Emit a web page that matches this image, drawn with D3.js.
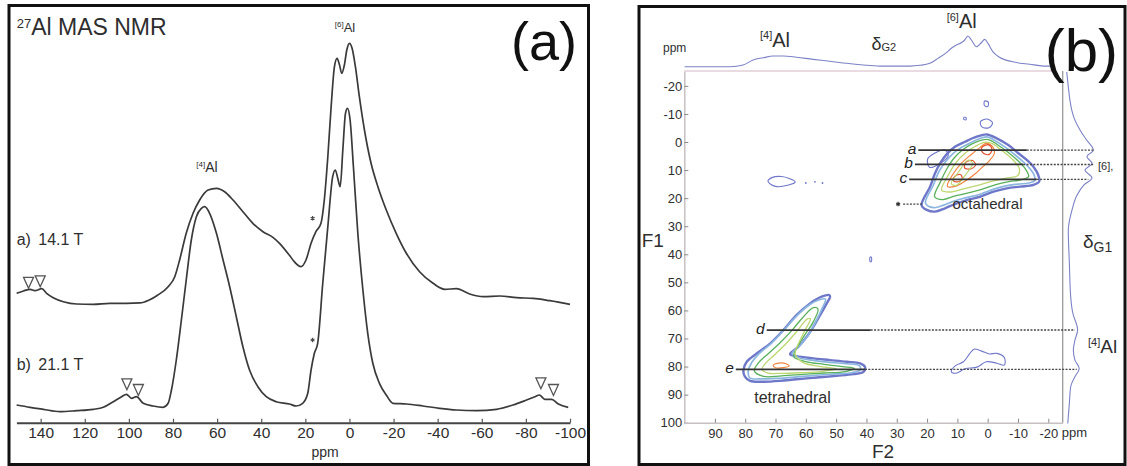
<!DOCTYPE html>
<html><head><meta charset="utf-8">
<script src="https://cdn.jsdelivr.net/npm/d3@7"></script>
<style>body{margin:0;background:#fff}svg{display:block}text{font-family:"Liberation Sans",Arial,sans-serif}</style>
</head><body><svg id="c" width="1127" height="466"></svg>
<script>
// ---------- Panel (a): 1D 27Al MAS NMR spectra [ppm, intensity] ----------
const spec14T = [[150.9,129.4],[147.8,131.7],[144.8,133.4],[142.6,132],[139.5,134],[137.3,129.4],[134.3,125],[129.7,121],[123.7,118.7],[116.2,118.4],[108.6,119.4],[101.1,119.4],[95,119.8],[91,122.5],[87,127.5],[82.2,136],[79.2,146],[77,162.7],[74,189.4],[70.9,209.4],[67.9,222.7],[64.1,232.7],[60.3,234.4],[56.6,231],[52.8,222.7],[48.3,211],[43.8,199.4],[39.2,191],[34.7,185.4],[31.7,179.4],[27.3,167.7],[25,161],[22,156],[19.7,162.7],[17.4,179.4],[15.2,191],[12.9,199.4],[11.4,222.7],[9.8,266],[8.3,316],[6.8,356],[5.6,364.4],[4.5,357.7],[3.5,349.4],[2.3,357.7],[1.2,372.7],[0,379.4],[-1.2,374.4],[-2.7,356],[-4.5,326],[-6.8,292.7],[-9.8,259.4],[-12.9,236],[-16.7,212.7],[-21.2,189.4],[-25.8,169.4],[-31.8,151],[-37.9,139.4],[-43.2,133.4],[-48.5,134],[-54.5,128.7],[-60.6,126],[-68.2,126.7],[-75.8,125],[-83.3,124.4],[-90.9,122],[-100,118.4]];
const spec21T = [[150.9,17.7],[144.8,15.4],[138.8,13.4],[131.3,11],[123.7,12],[116.2,13.4],[111.6,15.4],[107.1,21],[103.3,26],[101.1,28.4],[98.8,24.4],[96.6,26],[93.5,19.4],[89,16.7],[84.5,15.4],[82.2,19.4],[80.7,32.7],[78.5,62.7],[76.2,102.7],[74,142.7],[71.7,182.7],[69.4,206],[67.1,214.4],[65.6,216],[63.4,209.4],[60.3,189.4],[57.3,162.7],[54.3,136],[51.3,106],[48.3,76],[45.3,52.7],[41.5,36],[37.7,26],[33.2,21],[27.2,18.7],[24.2,16.7],[21.2,19.4],[18.9,29.4],[17.4,52.7],[15.9,69.4],[14.4,79.4],[12.1,139.4],[9.8,196],[7.6,246],[6.4,252.7],[5.3,244.4],[4.2,236],[3,272.7],[1.8,309.4],[0.9,314.4],[-0.3,302.7],[-1.8,256],[-3.8,189.4],[-6.1,132.7],[-8.3,89.4],[-10.6,59.4],[-13.6,39.4],[-16.7,27.7],[-19.7,19.4],[-25.8,18.7],[-33.3,16.7],[-40.9,14.4],[-48.5,12.7],[-57.6,12],[-66.7,13.4],[-74.2,17.7],[-80.3,22.7],[-84.1,26],[-86.1,27.7],[-88.6,23.4],[-91.7,23.4],[-94.7,18.7],[-99.2,15.4]];
const ticksA = [140,120,100,80,60,40,20,0,-20,-40,-60,-80,-100];
const sidebandMarks = [[145.5,139.9],[140.2,141.4],[100.9,38.4],[95.7,32.7],[-86.8,39.4],[-92.5,32.7]];
const asteriskMarks = [[16.7,204.4],[16.7,82.7]];

// ---------- Panel (b): 2D MQMAS [F2 ppm, F1 ppm] ----------
const ticksF1 = [-20,-10,0,10,20,30,40,50,60,70,80,90,100];
const ticksF2 = [90,80,70,60,50,40,30,20,10,0,-10,-20];
const projF2 = [[100,0],[85,0],[80.7,5.5],[77.4,22],[74.1,29],[70.8,35],[67.5,35],[63.1,31],[57.6,24],[52.1,18],[46.6,11],[41.1,5.5],[35.6,2],[25.7,2],[22.4,4.5],[19.1,11],[16.4,27],[13.6,46],[12,60],[10.3,71],[8.7,78],[7.6,87],[6.5,100],[5.4,87],[3.7,65],[2.1,78],[1,89],[-0.1,76],[-1.7,49],[-3.9,31],[-8.3,16],[-13.8,8],[-19.3,2],[-21.5,2]];
const projF1 = [[-25,0],[-19.7,6],[-15,12],[-11.4,19],[-7.8,31],[-4.3,50],[-0.7,75],[2.9,100],[5.2,76],[7.6,95],[10,69],[12.8,95],[15.3,65],[18.9,39],[24.2,20],[31.4,6],[43.1,10],[55.1,15],[61,23],[67,41],[70.6,31],[74.1,25],[77.7,31],[80.7,47],[83.6,31],[87.2,15],[93.1,10],[100.3,4]];
const contourColors = ["#6f77c9","#8bb6e0","#58b05a","#bcd76f","#f0853f","#e2502e"];
const octahedral = [
 [[21.8,22.5],[19.0,15.9],[17.4,11.2],[15.7,7.6],[13.5,4.3],[10.8,1.7],[7.5,-0.1],[3.6,-1.9],[0.3,-2.7],[-3.0,-1.3],[-6.8,1.1],[-10.1,4.0],[-12.9,6.4],[-15.1,8.8],[-16.7,11.8],[-17.0,14.1],[-15.1,15.3],[-10.7,15.9],[-6.3,16.5],[-1.9,17.7],[2.5,19.5],[6.9,20.7],[10.8,22.1],[14.1,23.6],[17.4,24.8],[20.1,24.2]],
 [[20.5,21.8],[18,15.5],[16.3,11],[14.5,7.8],[12.3,5],[9.8,2.7],[6.8,0.9],[3.4,-0.9],[0.3,-1.8],[-2.6,-0.4],[-6,2],[-9.4,4.9],[-12,7.3],[-14,9.6],[-15.4,12],[-15.5,13.8],[-13.5,14.6],[-10,15],[-6,15.6],[-2,16.8],[2.5,18.6],[7,19.8],[11,21],[14.5,22.5],[17.8,23.4]],
 [[17.5,19.5],[15.6,14.2],[13.5,9.6],[11,5.6],[8,2.6],[5,0.6],[2,-0.7],[-0.5,-0.8],[-3,0.8],[-6.5,3.5],[-9.8,6.5],[-12.3,9.4],[-13.5,12.3],[-11,13.5],[-7,14.1],[-3,15.1],[2,16.9],[7,18.3],[11,19.3],[14.8,20.5]],
 [[15.2,17.2],[13.2,12.2],[10.7,7.7],[7.6,4.1],[4.2,1.6],[1,0.1],[-1.6,0.6],[-4.6,3],[-8,6],[-10.4,9.4],[-10,11.9],[-6,12.9],[-1.6,13.9],[3,15.4],[8,16.7],[12.2,17.8]],
 [[13.3,15.8],[11.3,11.2],[8.7,7.6],[5.6,4.6],[2.6,2],[0.5,0.5],[-1.5,1.5],[-2.2,4],[-0.6,6.6],[1.8,9],[4,11.2],[7,13.6],[10.2,15.6]],
 [[1.6,1.6],[-0.4,1],[-1.4,2.6],[-0.5,4.4],[1.4,4],[2.1,2.6]]
];
const octaExtra = [
 [5,[[7.2,7.2],[5,6.6],[4,8.2],[5.6,9.6],[7.6,9.2]]],
 [5,[[10.8,12.2],[9,11.6],[8.4,13.2],[10.2,14.2],[11.4,13.6]]],
 [0,[[19.8,6],[17.2,3.8],[14.2,2.8],[13,4.8],[16,7.8],[19.2,9]]],
 [3,[[12,14.8],[9.5,10.5],[6.5,6.5],[5,7.5],[7.5,12],[10.5,15.5]]]
];
const tetrahedral = [
 [[52.3,54.5],[54.8,55.1],[58.6,57.5],[63.1,61.7],[67.4,67.0],[71.8,71.8],[76.2,75.3],[79.5,78.3],[80.6,81.3],[80.1,83.6],[78.4,85.1],[74.1,85.4],[68.5,85.1],[63.1,84.5],[56.4,83.9],[49.8,83.3],[44.3,82.7],[41.0,81.9],[40.5,80.1],[42.1,78.9],[46.5,78.3],[52.0,77.7],[57.6,77.1],[63.1,76.3],[65.2,75.6],[62.5,73.0],[59.7,69.4],[57.5,65.8],[55.3,61.7],[53.1,57.5],[52.0,55.1]],
 [[79,81.5],[78,78.8],[75.5,75.5],[71.5,71.8],[67.5,67.3],[63.5,62.5],[59.5,58.5],[55.5,56.2],[53.5,56],[54.5,59],[56.5,63.5],[59,68.5],[62,72.5],[64.5,75.3],[62.5,76.8],[57.5,77.8],[52,78.5],[46.5,79],[42.5,79.6],[42,81.2],[45,82.2],[50,82.6],[56.5,83.1],[63,83.7],[69,84.2],[74.5,84.4],[78.5,84]],
 [[77,81.5],[75.5,78.5],[72.5,75.5],[68.5,71.5],[64.5,67],[61,62.5],[57.5,59],[56,59.5],[57.5,64],[60.5,69],[63,73.5],[64,76.5],[60,78.2],[54,79.2],[48,80],[44,80.6],[47,81.8],[54,82.3],[61,82.8],[68,83.3],[74,83.5]],
 [[74.5,81],[73,78.5],[70,75.5],[66.5,71.8],[63,67.5],[59.5,63],[58.5,63],[60.5,67.5],[62.5,72],[63.5,75.5],[61,78.5],[55,80],[50,80.8],[55,81.8],[62,82.2],[68,82.4],[72.5,82.3]],
 [[70.8,79.6],[69,78.8],[66.5,79],[65.5,79.8],[67.5,80.4],[70,80.4]]
];
const smallBlobs = [
 [[72.5,14],[71,12.6],[68,12.3],[65.5,13],[63.5,14.2],[66,15.4],[70,15.8]],
 [[12,81.8],[10.5,79.6],[8,78.3],[6,75.5],[4.5,73.8],[2,74.5],[-0.5,75.5],[-3,75.3],[-5.5,76.8],[-5.5,79.5],[-3,78.8],[0.5,78.3],[3.5,80.2],[7.5,80.8],[10.5,82.4]],
 [[1,-14.6],[-0.2,-14.2],[0,-12.6],[1.1,-13.1]],
 [[2.4,-7.2],[0.2,-8.2],[-1.6,-6.8],[-0.4,-5.1],[1.8,-5.3]],
 [[7.8,-8.8],[7.1,-8.6],[7.2,-7.9],[7.9,-8.1]],
 [[38.8,41],[38.4,41],[38.4,42.6],[38.8,42.6]]
];
const blobDots = [[60,14.6],[57,14.2],[54.5,14.6]];
const refLines = [
 {label:"a", f1:2.9,  from:22.9, solidTo:-12.9, to:-34.9},
 {label:"b", f1:8.0,  from:24.0, solidTo:-11.7, to:-34.9},
 {label:"c", f1:13.3, from:25.9, solidTo:-16.2, to:-33.2},
 {label:"d", f1:67.0, from:72.9, solidTo:38.6,  to:-28.8},
 {label:"e", f1:81.0, from:83.1, solidTo:40.5,  to:-29.4}
];
const starLine = {f1:22.1, from:21.3, to:27.9};

const svg = d3.select("#c");
const ink = "#2e2e2e";
const FONT = '"Liberation Sans",Arial,sans-serif';

// ================= Panel (a) =================
const xA = d3.scaleLinear().domain([151,-100]).range([16.4,570]);
const yA = d3.scaleLinear().domain([0,400]).range([422.7,22.7]);
const lineA = d3.line().x(d=>xA(d[0])).y(d=>yA(d[1])).curve(d3.curveMonotoneX);
const gA = svg.append("g");
[spec14T, spec21T].forEach(s => gA.append("path").datum(s).attr("d", lineA)
  .attr("fill","none").attr("stroke","#3a3a3a").attr("stroke-width",1.7).attr("stroke-linejoin","round"));

const axA = gA.append("g").attr("transform",`translate(0,${yA(0)})`)
  .call(d3.axisBottom(xA).tickValues(ticksA).tickSize(-4).tickSizeOuter(0).tickPadding(4.5).tickFormat(d=>String(d)));
axA.select(".domain").attr("stroke","#444").attr("stroke-width",2);
axA.selectAll(".tick line").attr("stroke","#555").attr("stroke-width",1.2);
axA.selectAll("text").attr("font-size",15.5).attr("fill",ink).attr("font-family",FONT);

const tri = "M-5,-5.5L5,-5.5L0,5.5Z";
gA.selectAll(".sb").data(sidebandMarks).join("path").attr("d",tri)
  .attr("transform",d=>`translate(${xA(d[0])},${yA(d[1])})`)
  .attr("fill","#fff").attr("stroke","#555").attr("stroke-width",1.3);
gA.selectAll(".ast").data(asteriskMarks).join("path")
  .attr("d", d3.symbol(d3.symbolAsterisk, 14)())
  .attr("transform",d=>`translate(${xA(d[0])},${yA(d[1])})`)
  .attr("stroke","#444").attr("stroke-width",1.1).attr("fill","none");

const tA = gA.append("text").attr("x",16.7).attr("y",35).attr("fill",ink);
tA.append("tspan").attr("font-size",13).attr("dy",-7).text("27");
tA.append("tspan").attr("font-size",23).attr("dy",7).text("Al MAS NMR");
function supLabel(g, x, y, sup, main, fs, sfs, anchor){
  const t = g.append("text").attr("x",x).attr("y",y).attr("fill",ink).attr("text-anchor",anchor||"start");
  t.append("tspan").attr("font-size",sfs).attr("dy",-fs*0.38).text(sup);
  t.append("tspan").attr("font-size",fs).attr("dy",fs*0.38).text(main);
  return t;
}
supLabel(gA, 207, 172, "[4]", "Al", 14, 8, "middle");
supLabel(gA, 345, 31.7, "[6]", "Al", 13, 8, "middle");
[["a)","14.1 T",245],["b)","21.1 T",370]].forEach(r=>{
  gA.append("text").attr("x",16.7).attr("y",r[2]).attr("font-size",16).attr("fill",ink).text(r[0]);
  gA.append("text").attr("x",38.3).attr("y",r[2]).attr("font-size",16).attr("fill",ink).text(r[1]);
});
gA.append("text").attr("x",325).attr("y",457).attr("font-size",14).attr("text-anchor","middle").attr("fill",ink).text("ppm");
gA.append("text").attr("x",577).attr("y",59.5).attr("font-size",54).attr("text-anchor","end").attr("fill","#111").text("(a)");
gA.append("rect").attr("x",9).attr("y",5.5).attr("width",579.5).attr("height",459)
  .attr("fill","none").attr("stroke","#111").attr("stroke-width",3);

// ================= Panel (b) =================
const xB = d3.scaleLinear().domain([100.1,-24.75]).range([684.3,1062.7]);
const yB = d3.scaleLinear().domain([-25.3,100]).range([71,422.7]);
const yTop = d3.scaleLinear().domain([0,100]).range([66.7,36]);
const xRight = d3.scaleLinear().domain([0,100]).range([1066.7,1093.3]);
const gB = svg.append("g");

gB.append("line").attr("x1",xB.range()[0]).attr("x2",xB.range()[1]-10).attr("y1",yB.range()[0]).attr("y2",yB.range()[0])
  .attr("stroke","#e3cfd8").attr("stroke-width",1.5);
gB.append("line").attr("x1",xB.range()[1]).attr("x2",xB.range()[1]).attr("y1",yB.range()[0]).attr("y2",yB.range()[1])
  .attr("stroke","#9a9a9a").attr("stroke-width",1.3);

const axL = gB.append("g").attr("transform",`translate(${xB.range()[0]},0)`)
  .call(d3.axisLeft(yB).tickValues(ticksF1).tickSize(-4).tickSizeOuter(0).tickPadding(2).tickFormat(d=>String(d)));
const axBt = gB.append("g").attr("transform",`translate(0,${yB.range()[1]})`)
  .call(d3.axisBottom(xB).tickValues(ticksF2).tickSize(-4).tickSizeOuter(0).tickPadding(6.5).tickFormat(d=>String(d)));
[axL, axBt].forEach(a=>{
  a.select(".domain").attr("stroke","#c8c0c4").attr("stroke-width",1.5);
  a.selectAll(".tick line").attr("stroke","#888").attr("stroke-width",1);
  a.selectAll("text").attr("font-size",13).attr("fill",ink).attr("font-family",FONT);
});

gB.append("path").datum(projF2).attr("d", d3.line().x(d=>xB(d[0])).y(d=>yTop(d[1])).curve(d3.curveMonotoneX))
  .attr("fill","none").attr("stroke","#7c82c6").attr("stroke-width",1.1);
gB.append("path").datum(projF1).attr("d", d3.line().x(d=>xRight(d[1])).y(d=>yB(d[0])).curve(d3.curveMonotoneY))
  .attr("fill","none").attr("stroke","#7c82c6").attr("stroke-width",1.1);

const cLine = d3.line().x(d=>xB(d[0])).y(d=>yB(d[1])).curve(d3.curveCatmullRomClosed.alpha(0.5));
const cWidths = [2.4,1.7,1.3,1.3,1.2,1.2];
function drawContours(levels){
  levels.forEach((pts,i)=> gB.append("path").datum(pts).attr("d",cLine).attr("fill","none")
    .attr("stroke",contourColors[i]).attr("stroke-width", cWidths[i]));
}
drawContours(tetrahedral);
drawContours(octahedral);
octaExtra.forEach(e=> gB.append("path").datum(e[1]).attr("d",cLine).attr("fill","none")
  .attr("stroke",contourColors[e[0]]).attr("stroke-width",1.2));
smallBlobs.forEach(b=> gB.append("path").datum(b).attr("d",cLine).attr("fill","none")
  .attr("stroke",contourColors[0]).attr("stroke-width",1.1));
gB.selectAll(".bd").data(blobDots).join("circle").attr("cx",d=>xB(d[0])).attr("cy",d=>yB(d[1])).attr("r",0.9)
  .attr("fill",contourColors[0]);

refLines.forEach(r=>{
  gB.append("line").attr("x1",xB(r.from)).attr("x2",xB(r.solidTo)).attr("y1",yB(r.f1)).attr("y2",yB(r.f1))
    .attr("stroke","#333").attr("stroke-width",1.8);
  gB.append("line").attr("x1",xB(r.solidTo)).attr("x2",xB(r.to)).attr("y1",yB(r.f1)).attr("y2",yB(r.f1))
    .attr("stroke","#444").attr("stroke-width",1.4).attr("stroke-dasharray","2,1.4");
  gB.append("text").attr("x",xB(r.from)-2).attr("y",yB(r.f1)+4).attr("text-anchor","end")
    .attr("font-size",15.5).attr("font-style","italic").attr("fill","#222").text(r.label);
});
gB.append("line").attr("x1",xB(starLine.to)).attr("x2",xB(starLine.from)).attr("y1",yB(starLine.f1)).attr("y2",yB(starLine.f1))
  .attr("stroke","#444").attr("stroke-width",1.3).attr("stroke-dasharray","2,1.4");
gB.append("path").attr("d", d3.symbol(d3.symbolAsterisk, 14)())
  .attr("transform",`translate(${xB(starLine.to)-5},${yB(starLine.f1)})`)
  .attr("stroke","#333").attr("stroke-width",1.2).attr("fill","none");

gB.append("text").attr("x",663).attr("y",52).attr("font-size",12).attr("fill",ink).text("ppm");
supLabel(gB, 760, 46.5, "[4]", "Al", 20, 11, "start");
supLabel(gB, 946.7, 28.3, "[6]", "Al", 20, 11, "start");
supLabel(gB, 1088, 353.3, "[4]", "Al", 19, 11, "start");
const dG2 = gB.append("text").attr("x",871.5).attr("y",50).attr("fill",ink);
dG2.append("tspan").attr("font-size",18).text("δ");
dG2.append("tspan").attr("font-size",11).attr("dy",1).text("G2");
const dG1 = gB.append("text").attr("x",1083).attr("y",248).attr("fill",ink);
dG1.append("tspan").attr("font-size",19).text("δ");
dG1.append("tspan").attr("font-size",14).attr("dy",3.5).text("G1");
gB.append("text").attr("x",1098).attr("y",170).attr("font-size",11).attr("fill",ink).text("[6],");
gB.append("text").attr("x",987.5).attr("y",209).attr("font-size",15).attr("text-anchor","middle").attr("fill",ink).text("octahedral");
gB.append("text").attr("x",792.5).attr("y",403).attr("font-size",16).attr("text-anchor","middle").attr("fill",ink).text("tetrahedral");
gB.append("text").attr("x",1061.7).attr("y",437).attr("font-size",13).attr("fill",ink).text("ppm");
gB.append("text").attr("x",641.7).attr("y",247).attr("font-size",19).attr("fill",ink).text("F1");
gB.append("text").attr("x",883).attr("y",458).attr("font-size",19).attr("text-anchor","middle").attr("fill",ink).text("F2");
gB.append("text").attr("x",1118).attr("y",70.5).attr("font-size",60).attr("text-anchor","end").attr("fill","#111").text("(b)");
gB.append("rect").attr("x",639).attr("y",6.5).attr("width",486).attr("height",458)
  .attr("fill","none").attr("stroke","#111").attr("stroke-width",3);
</script></body></html>
